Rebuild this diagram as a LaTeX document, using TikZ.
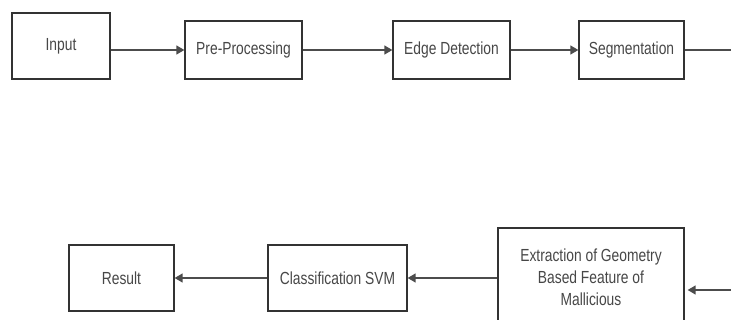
\documentclass[tikz,border=0pt]{standalone}
\usepackage{fontspec}
\setmainfont[FakeStretch=0.79]{Liberation Sans}
\usetikzlibrary{arrows.meta}
\begin{document}
\begin{tikzpicture}[x=1pt,y=-1pt,
    >={Triangle[length=8pt,width=9pt]},
    box/.style={draw=black!80, line width=1.3pt, text=black!72,
        font=\fontsize{17.5}{22}\selectfont, align=center, inner sep=0pt},
    link/.style={line width=1.4pt, draw=black!70}]
    \useasboundingbox (0,0) rectangle (731,320);
    \clip (0,0) rectangle (731,320);
% top row
    \node[box, minimum width=98pt, minimum height=66pt] (inp) at (61,46) {Input};
    \foreach \x/\w/\v/\t in {243.5/117/pre/Pre-Processing,451.5/117/edge/Edge Detection,631.5/105/seg/Segmentation}{
        \node[box, minimum width=\w pt, minimum height=58pt] (\v) at (\x,50) {\t};
    }
% bottom row
    \node[box, minimum width=105pt, minimum height=66pt] (res) at (121.5,278) {Result};
    \node[box, minimum width=139pt, minimum height=66pt] (svm) at (337.5,278) {Classification SVM};
    \node[box, minimum width=186pt, minimum height=98pt] (feat) at (591,277)
        {Extraction of Geometry\\Based Feature of\\Mallicious};
    \coordinate (out) at (731,50);
    \coordinate (in) at (731,290);
% flow
    \draw[link,->] (inp.east|-pre.west) -- (pre.west);
    \draw[link,->] (pre) -- (edge);
    \draw[link,->] (edge) -- (seg);
    \draw[link] (seg) -- (out);
    \draw[link,->] (in) -- ([xshift=3pt]feat.east|-in);
    \draw[link,->] (feat.west|-svm) -- (svm);
    \draw[link,->] (svm) -- (res);
\end{tikzpicture}
\end{document}
